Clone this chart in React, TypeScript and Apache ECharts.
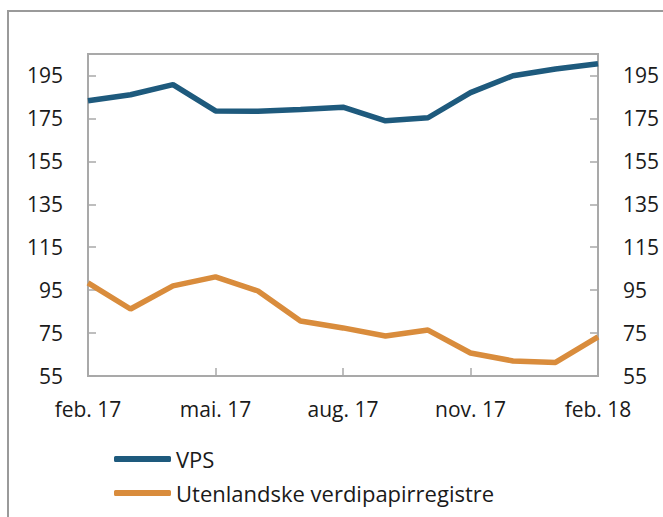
import React, { useEffect, useRef } from "react";
import * as echarts from "echarts";

const categories = [
  "feb. 17", "mar. 17", "apr. 17", "mai. 17", "jun. 17", "jul. 17", "aug. 17",
  "sep. 17", "okt. 17", "nov. 17", "des. 17", "jan. 18", "feb. 18",
];
const vps = [183.2, 186, 190.7, 178.5, 178.3, 179.2, 180.2, 173.9, 175.3, 187, 194.9, 198, 200.5];
const utenlandske = [98.4, 86.2, 97, 101.2, 94.6, 80.6, 77.4, 73.6, 76.4, 65.7, 62, 61.3, 73.2];
const yTicks = [55, 75, 95, 115, 135, 155, 175, 195];

const FONT = "'Open Sans', 'Noto Sans', sans-serif";
const AXIS_COLOR = "#a9a9a9";

export default function App() {
  const ref = useRef<HTMLDivElement>(null);
  useEffect(() => {
    if (!ref.current) return;
    const chart = echarts.init(ref.current, null, { renderer: "svg" });
    const yAxisBase = (pos: "left" | "right") => ({
      type: "value",
      position: pos,
      min: 55,
      max: 205,
      splitLine: { show: false },
      axisLine: { show: true, lineStyle: { color: AXIS_COLOR, width: 2 } },
      axisTick: {
        show: true,
        inside: true,
        length: 8,
        customValues: yTicks,
        lineStyle: { color: AXIS_COLOR, width: 1.5 },
      },
      axisLabel: {
        customValues: yTicks,
        margin: 25,
        color: "#1a1a1a",
        fontSize: 21,
        fontFamily: FONT,
      },
    });
    chart.setOption({
      animation: false,
      grid: {
        left: 88,
        right: 65,
        top: 54,
        bottom: 141,
        show: true,
        borderColor: AXIS_COLOR,
        borderWidth: 2,
        containLabel: false,
      },
      graphic: [
        {
          type: "rect",
          shape: { x: 8, y: 11, width: 900, height: 900 },
          style: { fill: "none", stroke: "#9a9a9a", lineWidth: 2 },
          silent: true,
        },
      ],
      xAxis: {
        type: "category",
        data: categories,
        boundaryGap: false,
        axisLine: { show: true, lineStyle: { color: AXIS_COLOR, width: 2 } },
        axisTick: {
          show: true,
          inside: true,
          length: 8,
          interval: 2,
          lineStyle: { color: AXIS_COLOR, width: 1.5 },
        },
        axisLabel: {
          interval: 2,
          margin: 22,
          color: "#1a1a1a",
          fontSize: 21,
          fontFamily: FONT,
        },
      },
      yAxis: [yAxisBase("left"), yAxisBase("right")],
      legend: {
        orient: "vertical",
        left: 114,
        top: 447,
        padding: 0,
        itemWidth: 57,
        itemHeight: 6,
        itemGap: 10,
        icon: "roundRect",
        textStyle: { color: "#1a1a1a", fontSize: 22, fontFamily: FONT, lineHeight: 24 },
        data: ["VPS", "Utenlandske verdipapirregistre"],
      },
      series: [
        {
          name: "VPS",
          type: "line",
          data: vps,
          yAxisIndex: 0,
          showSymbol: false,
          symbol: "none",
          lineStyle: { color: "#1e5a7d", width: 5.5 },
          itemStyle: { color: "#1e5a7d" },
        },
        {
          name: "Utenlandske verdipapirregistre",
          type: "line",
          data: utenlandske,
          yAxisIndex: 0,
          showSymbol: false,
          symbol: "none",
          lineStyle: { color: "#d98c3c", width: 5.5 },
          itemStyle: { color: "#d98c3c" },
        },
      ],
    });
    return () => chart.dispose();
  }, []);
  return (
    <div
      ref={ref}
      style={{ position: "fixed", left: 0, top: 0, width: 663, height: 517, background: "#fff" }}
    />
  );
}
